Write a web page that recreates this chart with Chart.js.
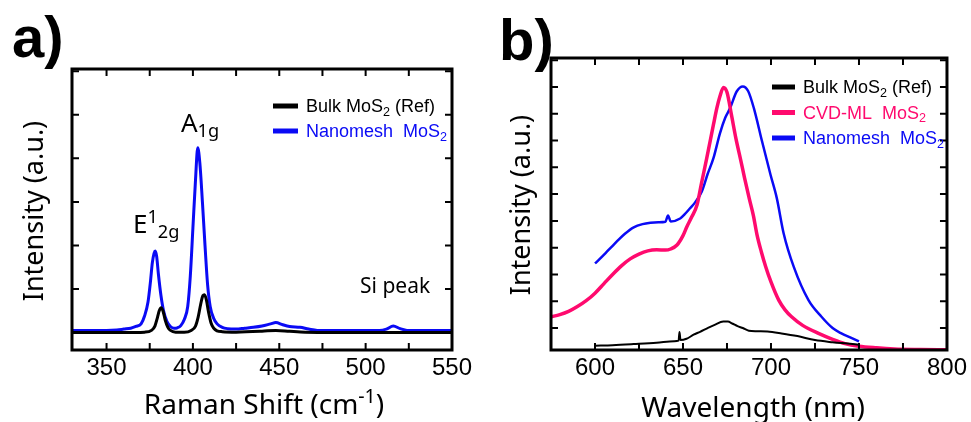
<!DOCTYPE html>
<html>
<head>
<meta charset="utf-8">
<script src="https://cdn.jsdelivr.net/npm/chart.js@4.4.0/dist/chart.umd.min.js"></script>
<style>
html, body { margin: 0; padding: 0; background: #fff; }
#wrap { position: relative; width: 971px; height: 422px; }
.pane { position: absolute; top: 0; height: 422px; }
</style>
</head>
<body>
<div id="wrap">
  <div class="pane" style="left:0;width:485px"><canvas id="ramanChart"></canvas></div>
  <div class="pane" style="left:485px;width:486px"><canvas id="plChart"></canvas></div>
</div>
<script>
// a) Raman spectra
var ramanTicks = [350, 400, 450, 500, 550];
var ramanLabels = ['Bulk MoS_{2} (Ref)', 'Nanomesh  MoS_{2}'];

var nanoShift = [330,340,350,356,360,364,367,370,372,374,375.5,376.5,377.5,378.2,379,380,381.5,383,385,387,
  389,391,393,395,397,398.5,400,401.5,402.8,404,405.5,407,408.5,410,412,414,417,420,425,430,
  435,440,445,448,452,456,462,467,472,480,490,500,508,512,516,520,524,535,550];
var nanoRaman = [0.05,0.05,0.05,0.06,0.08,0.1,0.14,0.2,0.38,0.7,1.2,1.6,1.82,1.87,1.75,1.35,0.85,0.5,0.25,0.14,
  0.1,0.11,0.16,0.3,0.6,1.3,2.4,3.5,4.24,3.9,3.0,2.0,1.1,0.6,0.33,0.2,0.12,0.09,0.08,0.1,
  0.12,0.15,0.2,0.23,0.18,0.14,0.12,0.08,0.05,0.05,0.05,0.05,0.05,0.08,0.15,0.09,0.05,0.05,0.05];

var bulkShift = [330,345,360,372,376,378,379.5,380.5,381.6,382.8,384,385.5,387,390,395,399,401.5,403,404.5,405.8,
  406.7,407.8,409,410.5,412,414,417,425,440,448,456,465,480,500,520,550];
var bulkRaman = [0,0,0,0.01,0.05,0.15,0.35,0.5,0.57,0.48,0.28,0.12,0.05,0.01,0.01,0.05,0.15,0.35,0.65,0.85,
  0.87,0.75,0.48,0.22,0.1,0.04,0.02,0.01,0.03,0.05,0.03,0.01,0,0,0,0];

// b) PL spectra
var plTicks = [600, 650, 700, 750, 800];
var plLabels = ['Bulk MoS_{2} (Ref)', 'CVD-ML  MoS_{2}', 'Nanomesh  MoS_{2}'];

var cvdWave = [575,580,585,590,595,600,605,610,615,620,625,630,635,640,643,646.6,650,652.2,655,658,
  660.5,663.5,667.3,669.2,671,673,675,677.7,680,682.7,685,687.6,690,692,694.5,697,700,704.4,708,711.7,
  718,727,735,742,750,760,770,785,800];
var cvdPL = [0.42,0.5,0.62,0.8,1.02,1.3,1.65,2.0,2.32,2.58,2.76,2.88,2.92,2.91,2.95,3.1,3.45,3.78,4.15,4.6,
  5.4,6.34,7.59,8.2,8.65,8.98,8.8,7.9,7.1,6.3,5.6,4.85,4.2,3.5,2.85,2.29,1.72,1.04,0.68,0.42,
  0.1,-0.2,-0.42,-0.58,-0.68,-0.74,-0.78,-0.8,-0.81];

var nanoWave = [600,603,606,609,612.7,617,622,627,631.5,636,640,641.5,643,648.4,651,654,657,660.7,664,667.3,
  671,674,676.7,680.5,684,687,690.3,694.8,699.7,703.3,707.2,712.9,721.3,728.7,735,740,745,750];
var nanoPL = [2.41,2.6,2.8,3.0,3.25,3.52,3.76,3.88,3.93,3.95,3.97,4.2,3.98,4.09,4.25,4.47,4.7,5.1,5.75,6.34,
  7.27,7.85,8.2,8.83,9.02,8.85,8.2,7.0,5.73,4.85,3.53,2.29,1.04,0.42,0.0,-0.2,-0.35,-0.5];

var bulkWave = [600,610,622,635,645,647.5,648,648.6,652,656,659.7,664,668,672.9,675.5,678,681,684,687.4,692,
  698,706,715,725,735,743.5,750];
var bulkPL = [-0.66,-0.64,-0.6,-0.55,-0.49,-0.47,-0.15,-0.45,-0.4,-0.25,-0.14,0.0,0.12,0.24,0.24,0.17,0.07,0.0,-0.1,-0.12,
  -0.13,-0.2,-0.3,-0.45,-0.53,-0.58,-0.62];

var BLUE = '#0a0af5', PINK = '#ff0a6e', BLACK = '#000000';
var TITLE_FONT = '"Noto Sans", "Open Sans", sans-serif';
var SANS = '"Liberation Sans", Arial, sans-serif';

function pts(xs, ys) {
  return xs.map(function (x, i) { return { x: x, y: ys[i] }; });
}

// petit parseur : _{..} = indice, ^{..} = exposant
function richParts(str) {
  var parts = [], re = /([_^])\{([^}]*)\}/g, last = 0, m;
  while ((m = re.exec(str))) {
    if (m.index > last) parts.push({ t: str.slice(last, m.index), k: 0 });
    parts.push({ t: m[2], k: m[1] === '_' ? 1 : -1 });
    last = re.lastIndex;
  }
  if (last < str.length) parts.push({ t: str.slice(last), k: 0 });
  return parts;
}

function drawRich(ctx, str, x, y, size, family, color, align, weight) {
  var parts = richParts(str), w = 0;
  weight = weight || 'normal';
  parts.forEach(function (p) {
    p.s = p.k ? size * 0.7 : size;
    ctx.font = weight + ' ' + p.s + 'px ' + family;
    p.w = ctx.measureText(p.t).width;
    w += p.w;
  });
  var cx = align === 'center' ? x - w / 2 : x;
  ctx.fillStyle = color;
  ctx.textAlign = 'left';
  ctx.textBaseline = 'alphabetic';
  parts.forEach(function (p) {
    ctx.font = weight + ' ' + p.s + 'px ' + family;
    var dy = p.k === 1 ? size * 0.2 : (p.k === -1 ? -size * 0.38 : 0);
    ctx.fillText(p.t, cx, y + dy);
    cx += p.w;
  });
}

// cadre, graduations vers l'intérieur, légende, titres
var framePlugin = {
  id: 'frame',
  afterDatasetsDraw: function (chart, args, o) {
    var ctx = chart.ctx, a = chart.chartArea, xs = chart.scales.x, ys = chart.scales.y;
    ctx.save();
    ctx.strokeStyle = '#000';
    ctx.lineWidth = 2;
    ctx.beginPath();
    xs.ticks.forEach(function (t) {
      var px = xs.getPixelForValue(t.value);
      ctx.moveTo(px, a.bottom); ctx.lineTo(px, a.bottom - 7);
      ctx.moveTo(px, a.top); ctx.lineTo(px, a.top + 7);
    });
    ys.ticks.forEach(function (t) {
      var py = ys.getPixelForValue(t.value);
      ctx.moveTo(a.left, py); ctx.lineTo(a.left + 7, py);
      ctx.moveTo(a.right, py); ctx.lineTo(a.right - 7, py);
    });
    ctx.stroke();
    ctx.lineWidth = 3;
    ctx.strokeRect(a.left, a.top, a.right - a.left, a.bottom - a.top);

    // légende
    chart.data.datasets.forEach(function (ds, i) {
      var ly = o.legendY + i * o.legendGap;
      ctx.strokeStyle = ds.borderColor;
      ctx.lineWidth = 5;
      ctx.beginPath();
      ctx.moveTo(o.legendX, ly); ctx.lineTo(o.legendX + o.legendLen, ly);
      ctx.stroke();
      drawRich(ctx, ds.label, o.legendX + o.legendLen + 8, ly + 6, 18, SANS, ds.borderColor, 'left');
    });

    // annotations
    (o.notes || []).forEach(function (n) {
      drawRich(ctx, n.text, n.x, n.y, n.size, TITLE_FONT, '#000', 'left');
    });

    // titres des axes
    drawRich(ctx, o.xTitle, o.xTitleX, o.xTitleY, 28, TITLE_FONT, '#000', 'center');
    ctx.save();
    ctx.translate(o.yTitleX, o.yTitleY);
    ctx.rotate(-Math.PI / 2);
    drawRich(ctx, o.yTitle, 0, 0, 27, TITLE_FONT, '#000', 'center');
    ctx.restore();

    // lettre du panneau
    drawRich(ctx, o.letter, o.letterX, o.letterY, 58, SANS, '#000', 'left', 'bold');
    ctx.restore();
  }
};

function xAxis(min, max, labels, h) {
  return {
    type: 'linear', min: min, max: max,
    ticks: {
      stepSize: 25, includeBounds: false, autoSkip: false, maxRotation: 0, padding: 4,
      color: '#000', font: { family: SANS, size: 24 },
      callback: function (v) { return labels.indexOf(v) >= 0 ? String(v) : ''; }
    },
    grid: { display: false, drawTicks: false },
    border: { display: false },
    afterFit: function (s) { s.height = h; }
  };
}

function yAxis(min, max, w) {
  return {
    type: 'linear', min: min, max: max,
    ticks: { display: false, stepSize: 1, includeBounds: false },
    grid: { display: false, drawTicks: false },
    border: { display: false },
    afterFit: function (s) { s.width = w; }
  };
}

function line(label, xs, ys, color, width) {
  return {
    label: label, data: pts(xs, ys), borderColor: color, borderWidth: width,
    pointRadius: 0, fill: false, tension: 0.4, cubicInterpolationMode: 'monotone'
  };
}

new Chart(document.getElementById('ramanChart'), {
  type: 'line',
  data: {
    datasets: [
      line(ramanLabels[0], bulkShift, bulkRaman, BLACK, 3),
      line(ramanLabels[1], nanoShift, nanoRaman, BLUE, 3)
    ]
  },
  options: {
    responsive: true, maintainAspectRatio: false, animation: false,
    layout: { padding: { top: 69, right: 33, left: 0, bottom: 0 } },
    scales: { x: xAxis(330, 550, ramanTicks, 72), y: yAxis(-0.4, 6.05, 72) },
    plugins: {
      legend: { display: false }, tooltip: { enabled: false },
      frame: {
        legendX: 273, legendY: 106, legendGap: 25, legendLen: 25,
        notes: [
          { text: 'A_{1g}', x: 181, y: 132, size: 26 },
          { text: 'E^{1}_{2g}', x: 133, y: 233, size: 26 },
          { text: 'Si peak', x: 360, y: 293, size: 21 }
        ],
        xTitle: 'Raman Shift (cm^{-1})', xTitleX: 264, xTitleY: 414,
        yTitle: 'Intensity (a.u.)', yTitleX: 43, yTitleY: 211,
        letter: 'a)', letterX: 12, letterY: 57
      }
    }
  },
  plugins: [framePlugin]
});

new Chart(document.getElementById('plChart'), {
  type: 'line',
  data: {
    datasets: [
      line(plLabels[0], bulkWave, bulkPL, BLACK, 2),
      line(plLabels[1], cvdWave, cvdPL, PINK, 3.5),
      line(plLabels[2], nanoWave, nanoPL, BLUE, 2.5)
    ]
  },
  options: {
    responsive: true, maintainAspectRatio: false, animation: false,
    layout: { padding: { top: 58, right: 23, left: 0, bottom: 0 } },
    scales: { x: xAxis(575, 800, plTicks, 72), y: yAxis(-0.82, 10.08, 66) },
    plugins: {
      legend: { display: false }, tooltip: { enabled: false },
      frame: {
        legendX: 287, legendY: 87, legendGap: 25.5, legendLen: 23,
        notes: [],
        xTitle: 'Wavelength (nm)', xTitleX: 268, xTitleY: 417,
        yTitle: 'Intensity (a.u.)', yTitleX: 45, yTitleY: 205,
        letter: 'b)', letterX: 14, letterY: 60
      }
    }
  },
  plugins: [framePlugin]
});
</script>
</body>
</html>
